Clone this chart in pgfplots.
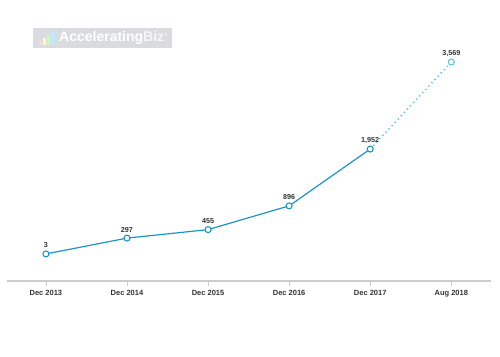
\documentclass[border=0pt]{standalone}
\usepackage{pgfplots}
\pgfplotsset{compat=1.18}
\usepackage{fontspec}
\setmainfont{Liberation Sans}
\definecolor{lineblue}{HTML}{1A96C4}
\definecolor{dotblue}{HTML}{5CC6EA}
\definecolor{axgray}{HTML}{CCCCCC}
\definecolor{txt}{HTML}{333333}
\definecolor{logobg}{HTML}{D9DBDF}
\begin{document}
\begin{tikzpicture}[x=1pt,y=1pt]
\useasboundingbox (0,0) rectangle (500,356);
% logo
\fill[logobg] (33,308) rectangle (172,328);
\fill[white!85!red] (39,311) rectangle (42,315);
\fill[white!70!yellow] (43,311) rectangle (46,318);
\fill[white!75!green] (47,311) rectangle (50,321);
\fill[white!75!cyan] (51,311) rectangle (55,325);
\node[anchor=west,inner sep=0pt,font=\bfseries\fontsize{14}{16}\selectfont,text=white] at (59,318) {Accelerating\textcolor{white!75!logobg}{Biz}\raisebox{5pt}{\fontsize{5}{6}\selectfont\textcolor{white!75!logobg}{®}}};
\begin{axis}[
  at={(7pt,75pt)}, anchor=south west,
  scale only axis, width=484pt, height=261pt,
  xmin=-0.48, xmax=5.49,
  ymin=-500, ymax=4350,
  axis line style={draw=none},
  axis x line*=bottom,
  axis y line=none,
  xtick={0,1,2,3,4,5},
  xticklabels={Dec 2013,Dec 2014,Dec 2015,Dec 2016,Dec 2017,Aug 2018},
  ticklabel style={font=\bfseries\fontsize{7.5}{9}\selectfont,text=txt},
  xtick style={draw=axgray,thick},
  tick align=outside,
  major tick length=5pt,
  xticklabel style={yshift=-1pt},
  clip=false,
  /pgf/number format/assume math mode=true,
  nodes near coords style={font=\bfseries\fontsize{7.2}{9}\selectfont,text=txt,yshift=2pt},
]
\draw[axgray,line width=2pt] (axis cs:-0.48,-500) -- (axis cs:5.49,-500);
\addplot[dotblue, line width=1.5pt, dash pattern=on 1.3pt off 3.2pt, forget plot] coordinates {(4,1952) (5,3569)};
\addplot[lineblue, line width=1.2pt, mark=*, mark size=3pt,
  mark options={fill=white,draw=lineblue,line width=1.1pt,solid},
  nodes near coords={\pgfmathprintnumber[1000 sep={,},assume math mode=true]{\pgfplotspointmeta}}]
  coordinates {(0,3) (1,297) (2,455) (3,896) (4,1952)};
\addplot[draw=none, mark=*, mark size=3pt,
  mark options={fill=white,draw=dotblue,line width=1.1pt},
  nodes near coords={\pgfmathprintnumber[1000 sep={,},assume math mode=true]{\pgfplotspointmeta}}]
  coordinates {(5,3569)};
\end{axis}
\end{tikzpicture}
\end{document}
